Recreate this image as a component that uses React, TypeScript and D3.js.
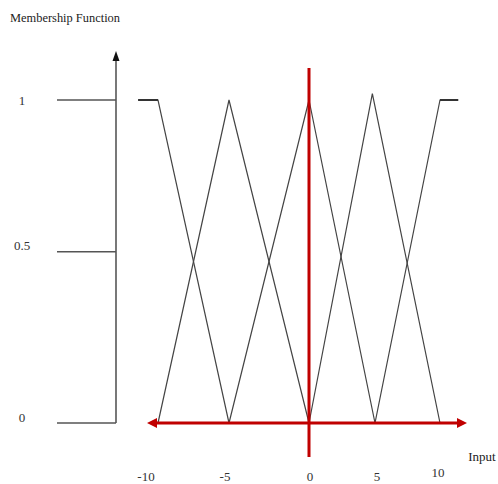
import React from "react";
import * as d3 from "d3";

const W = 498;
const H = 484;

// x breakpoints (input values) and y membership levels (hand-drawn tick positions)
const xTickValues = [-10, -5, 0, 5, 10];
const xTickLabels = ["-10", "-5", "0", "5", "10"];
const yTickValues = [0, 0.53, 1];
const yTickLabels = ["0", "0.5", "1"];

// membership functions: [input, membership]
const leftShoulder: [number, number][] = [[-11.4, 1], [-10, 1], [-5, 0]];
const triMinus5: [number, number][] = [[-10, 0], [-5, 1], [0, 0]];
const triZero: [number, number][] = [[-5, 0], [0, 1], [5, 0]];
const triPlus5: [number, number][] = [[0, 0], [4.8, 1.02], [10, 0]];
const rightShoulder: [number, number][] = [[5, 0], [10, 1], [11.4, 1]];
const series = [leftShoulder, triMinus5, triZero, triPlus5, rightShoulder];

export default function App() {
  // hand-drawn figure: piecewise linear x scale
  const x = d3.scaleLinear().domain([-10, -5, 0, 5, 10]).range([158, 229, 309, 375, 440]);
  const xLabel = d3.scaleLinear().domain([-10, -5, 0, 5, 10]).range([146, 225, 310, 377, 438]);
  const y = d3.scaleLinear().domain([0, 1]).range([423, 100]);
  const line = d3.line<[number, number]>().x((d) => x(d[0])).y((d) => y(d[1]));

  const red = "#c00000";
  const axisX = 116;
  const serif = "'Liberation Serif', 'DejaVu Serif', serif";

  return (
    <svg width={W} height={H} style={{ position: "absolute", left: 0, top: 0, background: "#fff" }}>
      {/* title */}
      <text x={10} y={22} fontFamily={serif} fontSize={13} fill="#222" textLength={110} lengthAdjust="spacingAndGlyphs">
        Membership Function
      </text>

      {/* y axis */}
      <line x1={axisX} x2={axisX} y1={y(0)} y2={58} stroke="#6a6a6a" strokeWidth={1.8} />
      <path d={`M${axisX},51 L${axisX - 3.5},61 L${axisX + 3.5},61 Z`} fill="#111" />

      {/* y ticks */}
      {yTickValues.map((v, i) => (
        <g key={v}>
          <line x1={57} x2={axisX} y1={y(v)} y2={y(v)} stroke="#555" strokeWidth={1.6} />
          <text
            x={22}
            y={y(v) - (v === 1 ? 0 : 6)}
            dy="0.35em"
            textAnchor="middle"
            fontFamily={serif}
            fontSize={13}
            fill="#333"
          >
            {yTickLabels[i]}
          </text>
        </g>
      ))}

      {/* membership functions */}
      {series.map((s, i) => (
        <path key={i} d={line(s) || ""} fill="none" stroke="#444" strokeWidth={1.2} />
      ))}
      {/* shoulder flat tops slightly heavier */}
      <path d={line(leftShoulder.slice(0, 2)) || ""} stroke="#333" strokeWidth={2} fill="none" />
      <path d={line(rightShoulder.slice(1)) || ""} stroke="#333" strokeWidth={2} fill="none" />

      {/* red input axis (double arrow) */}
      <line x1={154} x2={460} y1={y(0)} y2={y(0)} stroke={red} strokeWidth={3} />
      <path d={`M147,${y(0)} L157,${y(0) - 5} L157,${y(0) + 5} Z`} fill={red} />
      <path d={`M467,${y(0)} L457,${y(0) - 5} L457,${y(0) + 5} Z`} fill={red} />

      {/* red vertical at 0 */}
      <line x1={x(0)} x2={x(0)} y1={68} y2={457} stroke={red} strokeWidth={3} />

      {/* x tick labels */}
      {xTickValues.map((v, i) => (
        <text
          key={v}
          x={xLabel(v)}
          y={v === 10 ? 477 : 481}
          textAnchor="middle"
          fontFamily={serif}
          fontSize={13}
          fill="#333"
        >
          {xTickLabels[i]}
        </text>
      ))}
      <text x={482} y={461} textAnchor="middle" fontFamily={serif} fontSize={13} fill="#222">
        Input
      </text>
    </svg>
  );
}
